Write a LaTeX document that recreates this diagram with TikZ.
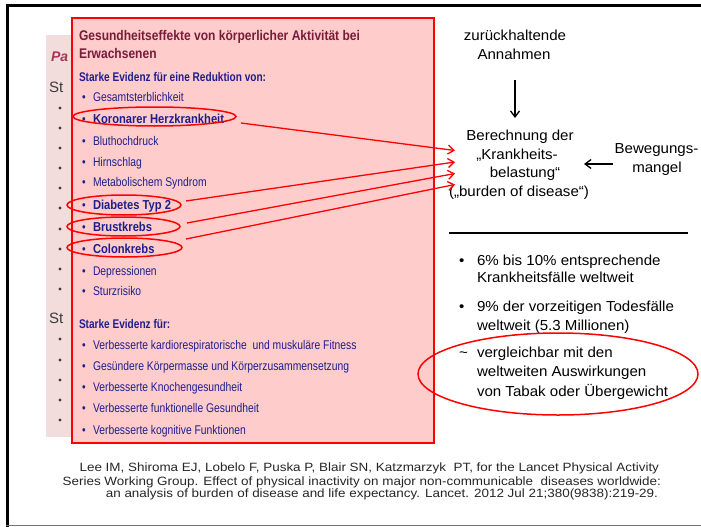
\documentclass[tikz,border=0pt]{standalone}
\usepackage{fontspec}
\setmainfont{Liberation Sans}
\newfontfamily\fSub[FakeStretch=0.80]{Liberation Sans}
\newfontfamily\fItm[FakeStretch=0.82]{Liberation Sans}
\newfontfamily\fBld[FakeStretch=0.86]{Liberation Sans}
\newfontfamily\fWide[FakeStretch=1.04]{Liberation Sans}
\newfontfamily\fCite[FakeStretch=1.12]{Liberation Sans}
\usetikzlibrary{arrows.meta,shapes.geometric}
\definecolor{boxfill}{RGB}{255,204,204}
\definecolor{bgfill}{RGB}{242,221,220}
\definecolor{titlecol}{RGB}{120,28,60}
\definecolor{itemblue}{RGB}{30,30,140}
\definecolor{pacol}{RGB}{165,55,90}
\definecolor{stcol}{RGB}{60,60,60}
\begin{document}
\begin{tikzpicture}[x=1pt,y=-1pt,
  lt/.style={inner sep=0pt, outer sep=0pt, anchor=base west},
  ct/.style={inner sep=0pt, outer sep=0pt, anchor=base},
  rt/.style={inner sep=0pt, outer sep=0pt, anchor=base east},
  titletxt/.style={lt, text=titlecol, font=\fBld\bfseries\fontsize{14}{16}\selectfont},
  subtxt/.style={lt, text=itemblue, font=\fSub\bfseries\fontsize{12.6}{15}\selectfont},
  itemtxt/.style={lt, text=itemblue, font=\fItm\fontsize{12.6}{15}\selectfont},
  bolditem/.style={lt, text=itemblue, font=\fBld\bfseries\fontsize{13}{15}\selectfont},
  bul/.style={lt, text=itemblue, font=\fItm\fontsize{12.6}{15}\selectfont},
  rtxt/.style={ct, font=\fWide\fontsize{14.5}{17}\selectfont},
  rltxt/.style={lt, font=\fWide\fontsize{14.5}{17}\selectfont},
  cite/.style={rt, text=black!85, font=\fCite\fontsize{12}{14}\selectfont},
  oval/.style={ellipse, draw=red, line width=1.5pt, inner sep=0pt, fill=none},
  redarrow/.style={draw=red, line width=1.3pt, -{Straight Barb[length=6pt,width=9pt]}},
  blackarrow/.style={draw=black, line width=1.3pt, -{Straight Barb[length=6pt,width=9pt]}},
  bgdot/.style={fill=stcol}
]
\useasboundingbox (0,0) rectangle (701,527);
\fill[white] (0,0) rectangle (701,527);
% frame
\draw[line width=3pt] (6,5.5) -- (701,5.5);
\draw[line width=3pt] (7.5,4) -- (7.5,527);
\draw[black!55, line width=1pt] (6,525.5) -- (701,525.5);

% background slide
\fill[bgfill] (46,35) rectangle (300,437);
\node[lt, text=pacol, font=\bfseries\itshape\fontsize{14}{16}\selectfont] (pa) at (51,62) {Pa};
\node[lt, text=stcol, font=\fontsize{15}{17}\selectfont] (st1) at (49,92.5) {St};
\node[lt, text=stcol, font=\fontsize{15}{17}\selectfont] (st2) at (49,323.5) {St};
\foreach \yy in {108,128,148,168,188,208,229,249,269,289,339,360,380,400,420}
  \fill[bgdot] (60,\yy) circle (1.6);

% red box
\draw[draw=red, fill=boxfill, line width=1.5pt] (72,18) rectangle (434,443);

\node[titletxt] (t1) at (79,40.7) {Gesundheitseffekte von körperlicher Aktivität bei};
\node[titletxt] (t2) at (79,58.3) {Erwachsenen};
\node[subtxt] (h1) at (79,81.7) {Starke Evidenz für eine Reduktion von:};

\node[bul] (b1) at (82,101.7) {•};
\node[itemtxt] (i1) at (93,101.7) {Gesamtsterblichkeit};
\node[bul] (b2) at (82,123.3) {•};
\node[bolditem] (i2) at (93,123.3) {Koronarer Herzkrankheit};
\node[bul] (b3) at (82,145) {•};
\node[itemtxt] (i3) at (93,145) {Bluthochdruck};
\node[bul] (b4) at (82,166) {•};
\node[itemtxt] (i4) at (93,166) {Hirnschlag};
\node[bul] (b5) at (82,186.7) {•};
\node[itemtxt] (i5) at (93,186.7) {Metabolischem Syndrom};
\node[bul] (b6) at (82,209) {•};
\node[bolditem] (i6) at (93,209) {Diabetes Typ 2};
\node[bul] (b7) at (82,231.7) {•};
\node[bolditem] (i7) at (93,231.7) {Brustkrebs};
\node[bul] (b8) at (82,253.3) {•};
\node[bolditem] (i8) at (93,253.3) {Colonkrebs};
\node[bul] (b9) at (82,275) {•};
\node[itemtxt] (i9) at (93,275) {Depressionen};
\node[bul] (b10) at (82,295) {•};
\node[itemtxt] (i10) at (93,295) {Sturzrisiko};

\node[subtxt] (h2) at (79,328.3) {Starke Evidenz für:};
\node[bul] (c1b) at (82,349.3) {•};
\node[itemtxt] (c1) at (93,349.3) {Verbesserte kardiorespiratorische\ \ und muskuläre Fitness};
\node[bul] (c2b) at (82,370.7) {•};
\node[itemtxt] (c2) at (93,370.7) {Gesündere Körpermasse und Körperzusammensetzung};
\node[bul] (c3b) at (82,391.7) {•};
\node[itemtxt] (c3) at (93,391.7) {Verbesserte Knochengesundheit};
\node[bul] (c4b) at (82,412.7) {•};
\node[itemtxt] (c4) at (93,412.7) {Verbesserte funktionelle Gesundheit};
\node[bul] (c5b) at (82,434) {•};
\node[itemtxt] (c5) at (93,434) {Verbesserte kognitive Funktionen};

% ovals
\node[oval, minimum width=163pt, minimum height=19pt] (ek) at (154.5,116.5) {};
\node[oval, minimum width=114pt, minimum height=20pt] (ed) at (124,205) {};
\node[oval, minimum width=113pt, minimum height=19pt] (eb) at (123.5,226.5) {};
\node[oval, minimum width=115pt, minimum height=19pt] (ec) at (124.5,247.5) {};

% right side text
\node[rtxt] (z1) at (515,40.7) {zurückhaltende};
\node[rtxt] (z2) at (514,59.3) {Annahmen};
\node[rtxt] (k1) at (520,140) {Berechnung der};
\node[rtxt] (k2) at (517,159.3) {„Krankheits-};
\node[rtxt] (k3) at (525,177.7) {belastung“};
\node[rtxt] (k4) at (519,196.7) {(„burden of disease“)};
\node[rtxt] (m1) at (656.5,153.3) {Bewegungs-};
\node[rtxt] (m2) at (657,172.7) {mangel};

% arrows
\coordinate (a1) at (515,80);
\coordinate (a2) at (515,118);
\draw[blackarrow] (a1) -- (a2);
\coordinate (m0) at (613,164);
\coordinate (mt) at (584,164);
\draw[blackarrow] (m0) -- (mt);

\coordinate (s1) at (241,123);
\coordinate (s2) at (186,201);
\coordinate (s3) at (187,223);
\coordinate (s4) at (186,239);
\coordinate (e1) at (455,150.5);
\coordinate (e2) at (455,162);
\coordinate (e3) at (455,173.5);
\coordinate (e4) at (455,184.5);
\draw[redarrow] (s1) -- (e1);
\draw[redarrow] (s2) -- (e2);
\draw[redarrow] (s3) -- (e3);
\draw[redarrow] (s4) -- (e4);

% separator
\draw[line width=1.5pt] (449,233) -- (688,233);

% right bullets
\node[rltxt] (rb1) at (459,265.7) {•};
\node[rltxt] (r1) at (477,265.7) {6\% bis 10\% entsprechende};
\node[rltxt] (r2) at (477,282.7) {Krankheitsfälle weltweit};
\node[rltxt] (rb2) at (459,311.7) {•};
\node[rltxt] (r3) at (477,311.7) {9\% der vorzeitigen Todesfälle};
\node[rltxt] (r4) at (477,330) {weltweit (5.3 Millionen)};
\node[rltxt] (rb3) at (459,357.3) {\char"7E};
\node[rltxt] (r5) at (477,357.3) {vergleichbar mit den};
\node[rltxt] (r6) at (477,376.7) {weltweiten Auswirkungen};
\node[rltxt] (r7) at (477,396) {von Tabak oder Übergewicht};
\node[oval, minimum width=280pt, minimum height=82pt] (eg) at (558,374) {};

% citation
\node[cite] (q1) at (659,471.7) {Lee IM, Shiroma EJ, Lobelo F, Puska P, Blair SN, Katzmarzyk\ \ PT, for the Lancet Physical Activity};
\node[cite] (q2) at (661,485) {Series Working Group. Effect of physical inactivity on major non-communicable\ \ diseases worldwide:};
\node[cite] (q3) at (658,497.7) {an analysis of burden of disease and life expectancy. Lancet. 2012 Jul 21;380(9838):219-29.};
\end{tikzpicture}
\end{document}
